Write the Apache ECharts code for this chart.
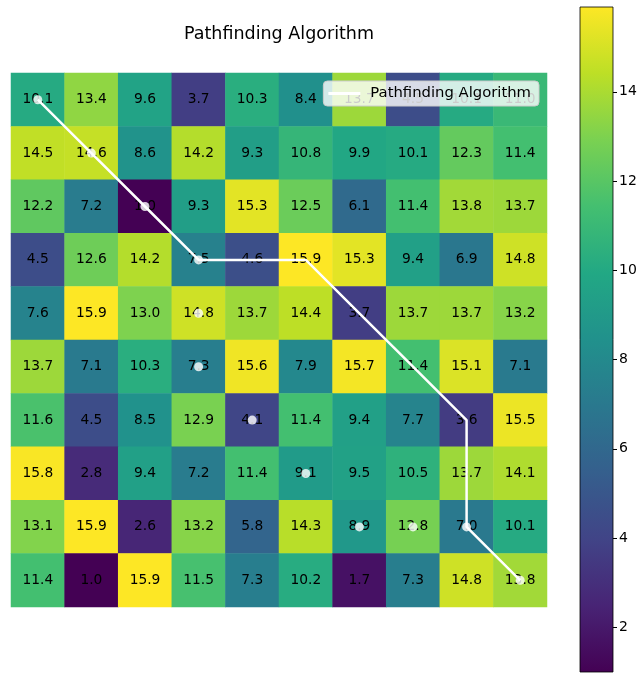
<!DOCTYPE html>
<html>
<head>
<meta charset="utf-8">
<script src="https://cdn.jsdelivr.net/npm/echarts@6/dist/echarts.min.js"></script>
<style>
  html, body { margin: 0; padding: 0; background: #fff; }
  #chart { width: 640px; height: 673px; }
</style>
</head>
<body>
<div id="chart"></div>
<script>
// Cost grid, one row per line (top row first)
const colLabels = ['0', '1', '2', '3', '4', '5', '6', '7', '8', '9'];
const rowLabels = ['0', '1', '2', '3', '4', '5', '6', '7', '8', '9'];
const row0 = [10.1, 13.4, 9.6, 3.7, 10.3, 8.4, 13.7, 4.5, 10.1, 11.0];
const row1 = [14.5, 14.6, 8.6, 14.2, 9.3, 10.8, 9.9, 10.1, 12.3, 11.4];
const row2 = [12.2, 7.2, 1.0, 9.3, 15.3, 12.5, 6.1, 11.4, 13.8, 13.7];
const row3 = [4.5, 12.6, 14.2, 7.5, 4.6, 15.9, 15.3, 9.4, 6.9, 14.8];
const row4 = [7.6, 15.9, 13.0, 14.8, 13.7, 14.4, 3.7, 13.7, 13.7, 13.2];
const row5 = [13.7, 7.1, 10.3, 7.3, 15.6, 7.9, 15.7, 11.4, 15.1, 7.1];
const row6 = [11.6, 4.5, 8.5, 12.9, 4.1, 11.4, 9.4, 7.7, 3.6, 15.5];
const row7 = [15.8, 2.8, 9.4, 7.2, 11.4, 9.1, 9.5, 10.5, 13.7, 14.1];
const row8 = [13.1, 15.9, 2.6, 13.2, 5.8, 14.3, 8.9, 12.8, 7.0, 10.1];
const row9 = [11.4, 1.0, 15.9, 11.5, 7.3, 10.2, 1.7, 7.3, 14.8, 13.8];
const gridRows = [row0, row1, row2, row3, row4, row5, row6, row7, row8, row9];

// Route drawn as a line: [column, row]
const routeLine = [[0, 0], [1, 1], [2, 2], [3, 3], [4, 3], [5, 3], [6, 4], [7, 5], [8, 6], [8, 7], [8, 8], [9, 9]];
// Visited nodes drawn as dots: [column, row]
const visitedNodes = [[0, 0], [1, 1], [2, 2], [3, 3], [3, 4], [3, 5], [4, 6], [5, 7], [6, 8], [7, 8], [8, 8], [9, 9]];

// Colour bar range and ticks
const scaleMin = 1.0;
const scaleMax = 15.9;
const barTicks = [2, 4, 6, 8, 10, 12, 14];

const viridis = ['#440154', '#482475', '#414487', '#355f8d', '#2a788e', '#21918c',
                 '#22a884', '#44bf70', '#7ad151', '#bddf26', '#fde725'];

const heatData = [];
gridRows.forEach((row, r) => row.forEach((v, c) => heatData.push([c, r, v])));

const chart = echarts.init(document.getElementById('chart'), null, { renderer: 'canvas' });
const font = 'DejaVu Sans';

chart.setOption({
  backgroundColor: '#fff',
  animation: false,
  textStyle: { fontFamily: font },
  title: {
    text: 'Pathfinding Algorithm',
    left: 274, top: 20, textAlign: 'center',
    textStyle: { fontFamily: font, fontSize: 17.5, fontWeight: 'normal', color: '#000' }
  },
  legend: {
    data: [{ name: 'Pathfinding Algorithm', icon: 'rect' }],
    right: 101, top: 81,
    backgroundColor: 'rgba(255,255,255,0.8)',
    borderColor: '#cccccc', borderWidth: 1, borderRadius: 4,
    padding: [5, 8, 5, 5],
    itemWidth: 32, itemHeight: 3,
    itemStyle: { color: '#ffffff' },
    textStyle: { fontFamily: font, fontSize: 14.8, color: '#000', padding: [0, 0, 0, 5] }
  },
  visualMap: {
    show: false, type: 'continuous', seriesIndex: 0,
    min: scaleMin, max: scaleMax,
    inRange: { color: viridis }
  },
  grid: [
    { left: 11, top: 73, width: 536, height: 534 },
    { left: 580, top: 7, width: 33, height: 665 }
  ],
  xAxis: [
    { type: 'category', data: colLabels, gridIndex: 0, show: false },
    { type: 'category', data: ['cb'], gridIndex: 1, show: false }
  ],
  yAxis: [
    { type: 'category', data: rowLabels, gridIndex: 0, inverse: true, show: false },
    {
      type: 'value', gridIndex: 1, min: scaleMin, max: scaleMax, position: 'right',
      axisLine: { show: false },
      splitLine: { show: false },
      axisTick: { show: true, length: 4, lineStyle: { color: '#000' }, customValues: barTicks },
      axisLabel: { show: true, margin: 6, fontFamily: font, fontSize: 14, color: '#000', customValues: barTicks }
    }
  ],
  series: [
    {
      type: 'heatmap', xAxisIndex: 0, yAxisIndex: 0, data: heatData, z: 1,
      label: { show: true, color: '#000', fontFamily: font, fontSize: 13.8, formatter: p => p.value[2].toFixed(1) },
      emphasis: { disabled: true }
    },
    {
      name: 'Pathfinding Algorithm', type: 'line', xAxisIndex: 0, yAxisIndex: 0, z: 5,
      data: routeLine, symbol: 'none', showSymbol: false,
      lineStyle: { color: '#ffffff', width: 2.5 }, itemStyle: { color: '#ffffff' }
    },
    {
      type: 'scatter', xAxisIndex: 0, yAxisIndex: 0, z: 6,
      data: visitedNodes, symbol: 'circle', symbolSize: 9,
      itemStyle: { color: '#ffffff' }, emphasis: { disabled: true }
    },
    {
      type: 'custom', xAxisIndex: 1, yAxisIndex: 1, z: 2, silent: true,
      data: [[0, scaleMin, scaleMax]],
      renderItem: (params, api) => {
        const lo = api.coord([0, api.value(1)]);
        const hi = api.coord([0, api.value(2)]);
        const cs = params.coordSys;
        const stops = viridis.map((c, i) => ({ offset: i / (viridis.length - 1), color: c }));
        return {
          type: 'rect',
          shape: { x: cs.x, y: hi[1], width: cs.width, height: lo[1] - hi[1] },
          style: { fill: new echarts.graphic.LinearGradient(0, 1, 0, 0, stops), stroke: '#000', lineWidth: 0.8 }
        };
      }
    }
  ]
});
</script>
</body>
</html>
